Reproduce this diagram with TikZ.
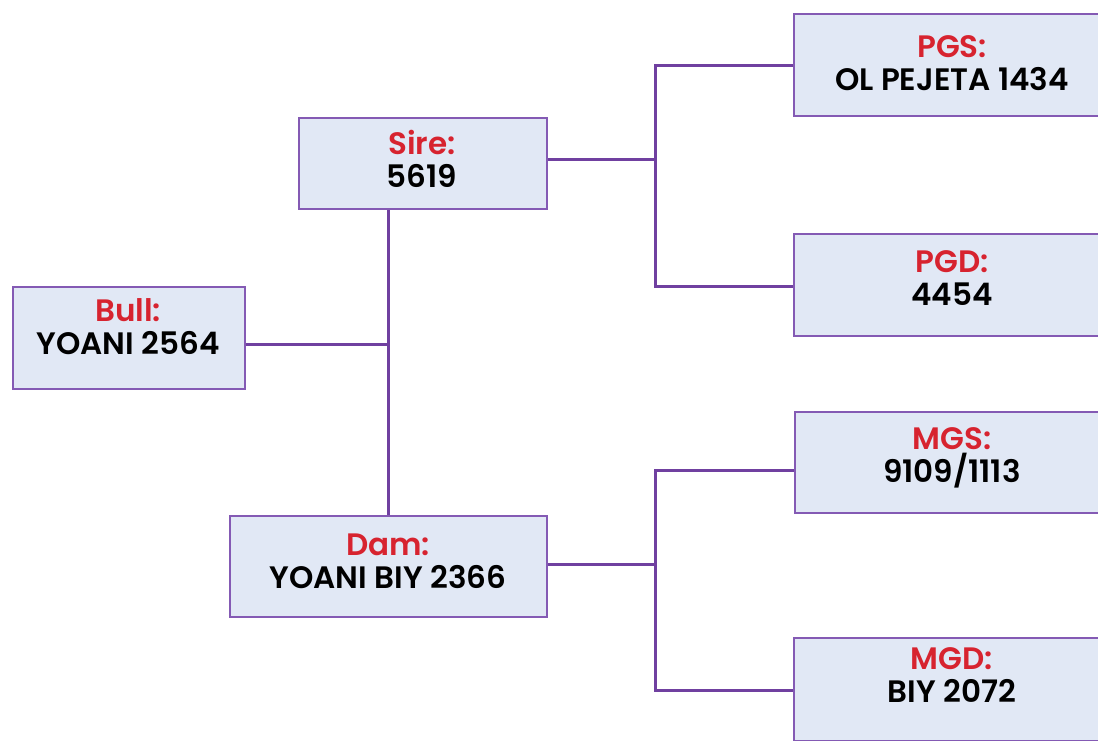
\documentclass[tikz,border=0pt]{standalone}
\usepackage{fontspec}
\setmainfont{Poppins}[BoldFont={Poppins SemiBold}]
\definecolor{pedline}{RGB}{112,64,160}
\definecolor{pedframe}{RGB}{132,90,180}
\definecolor{pedfill}{RGB}{225,232,245}
\definecolor{pedred}{RGB}{215,35,47}
\newcommand{\tl}[1]{\textcolor{pedred}{#1}}
\tikzset{
  pedbox/.style={draw=pedframe, line width=1pt, fill=pedfill, anchor=north west, inner sep=0pt},
  pedtext/.style={anchor=north, inner sep=0pt, align=center, font=\fontsize{15.5}{16.5}\selectfont\bfseries},
  link/.style={draw=pedline, line width=1.5pt}
}
\begin{document}
\begin{tikzpicture}[x=0.5pt,y=-0.5pt]
\useasboundingbox (0,0) rectangle (1098,740);
\clip (0,0) rectangle (1098,740);

\node[pedbox, minimum width=116pt, minimum height=51pt] (bull) at (12,286) {};
\node[pedbox, minimum width=124pt, minimum height=45.5pt] (sire) at (298,117) {};
\node[pedbox, minimum width=158.5pt, minimum height=50.5pt] (dam) at (229,515) {};
\node[pedbox, minimum width=159pt, minimum height=51pt] (pgs) at (793,13) {};
\node[pedbox, minimum width=159pt, minimum height=51pt] (pgd) at (793,233) {};
\node[pedbox, minimum width=159pt, minimum height=50.5pt] (mgs) at (794,411) {};
\node[pedbox, minimum width=159pt, minimum height=51.5pt] (mgd) at (793,637) {};

\node[pedtext] (bullt) at (128,298) {\tl{Bull:}\\YOANI 2564};
\node[pedtext] (siret) at (422,130) {\tl{Sire:}\\5619};
\node[pedtext] (damt) at (388,533) {\tl{Dam:}\\YOANI BIY 2366};
\node[pedtext] (pgst) at (952,35) {\tl{PGS:}\\OL PEJETA 1434};
\node[pedtext] (pgdt) at (952,250) {\tl{PGD:}\\4454};
\node[pedtext] (mgst) at (952,427) {\tl{MGS:}\\9109/1113};
\node[pedtext] (mgdt) at (952,647) {\tl{MGD:}\\BIY 2072};

% joints
\coordinate (bj) at (388,344);
\coordinate (sj) at (655,159);
\coordinate (dj) at (655,564);
\coordinate (pgsa) at (793,65);
\coordinate (pgda) at (793,286);
\coordinate (mgsa) at (794,470);
\coordinate (mgda) at (793,690);

\draw[link] (bull.east |- bj) -- (bj);
\draw[link] (sire.south -| bj) -- (dam.north -| bj);
\draw[link] (sire.east |- sj) -- (sj);
\draw[link] (pgsa) -| (sj) |- (pgda);
\draw[link] (dam.east |- dj) -- (dj);
\draw[link] (mgsa) -| (dj) |- (mgda);
\end{tikzpicture}
\end{document}
